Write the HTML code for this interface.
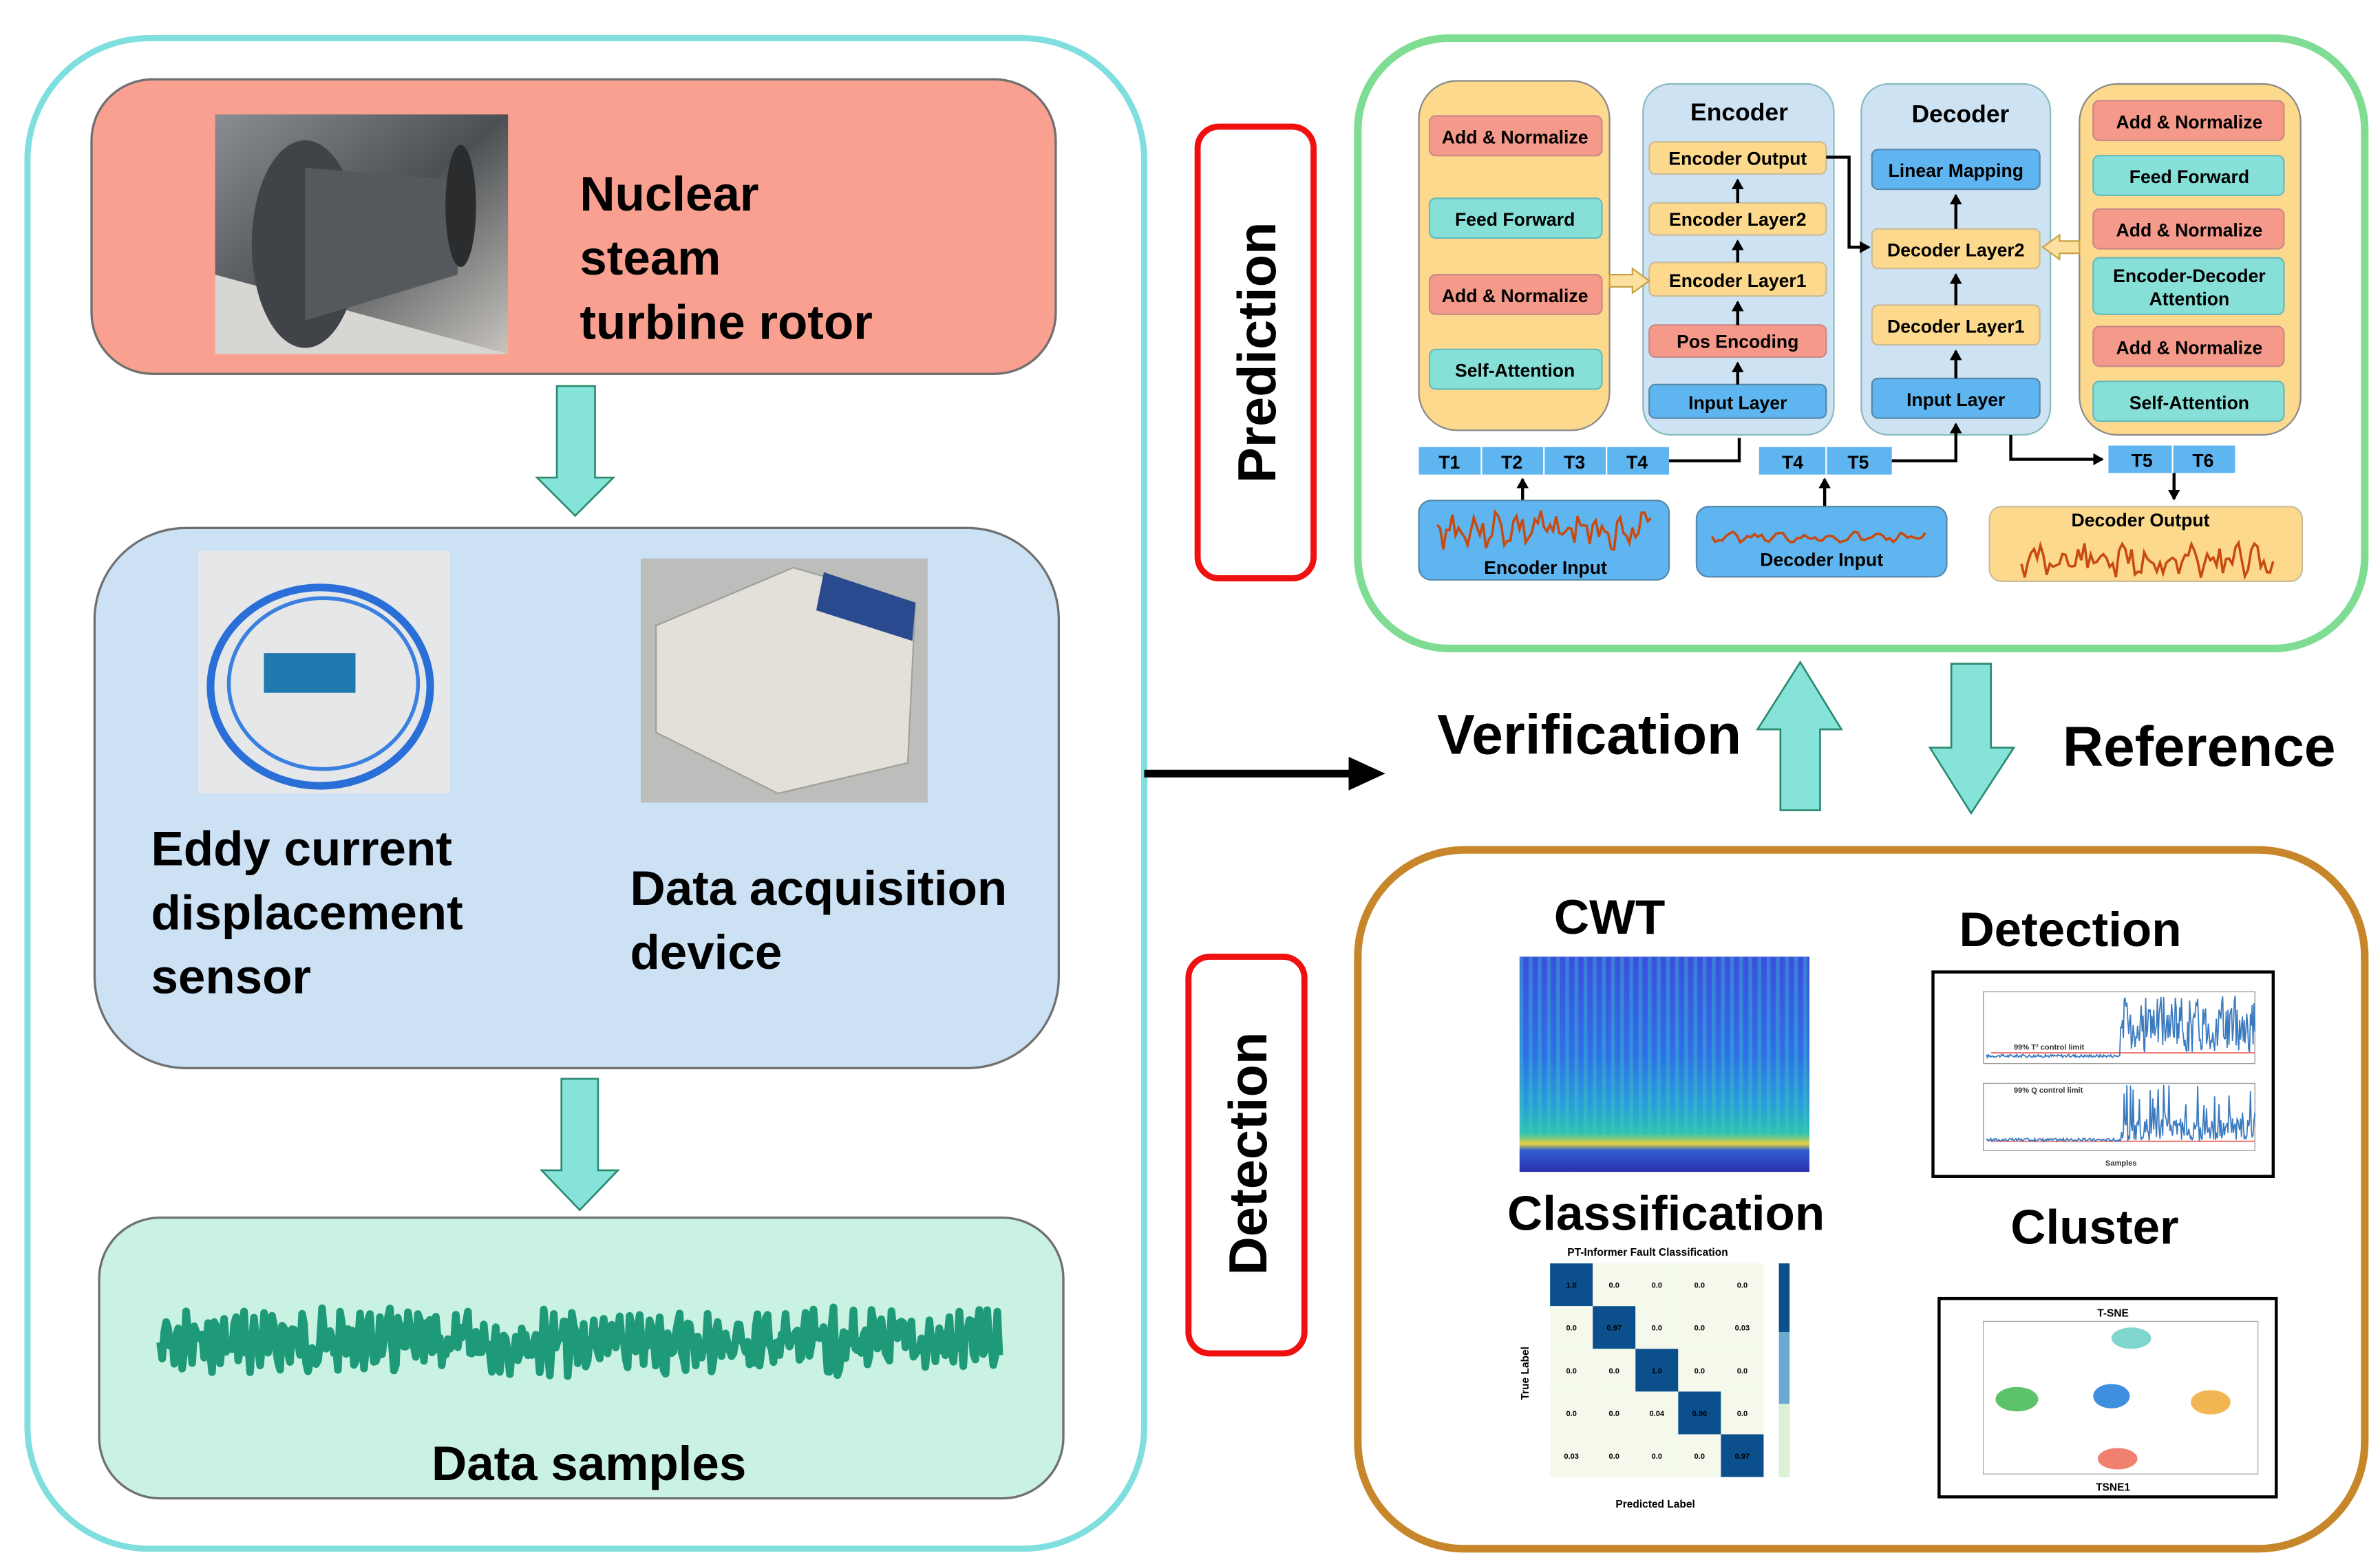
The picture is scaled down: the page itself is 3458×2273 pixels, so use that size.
<!DOCTYPE html>
<html><head><meta charset="utf-8">
<style>
html,body{margin:0;padding:0;background:#fff;}
svg{display:block;}
text{font-family:"Liberation Sans",sans-serif;font-weight:bold;}
</style></head>
<body>
<svg id="s" width="3458" height="2273" viewBox="0 0 1560 1025" preserveAspectRatio="none" xmlns="http://www.w3.org/2000/svg">
<defs>
<linearGradient id="cwt" x1="0" y1="0" x2="0" y2="1">
<stop offset="0" stop-color="#3a4fe0"/><stop offset="0.45" stop-color="#2f6fe8"/>
<stop offset="0.7" stop-color="#2aa0d8"/><stop offset="0.82" stop-color="#30c0b0"/>
<stop offset="0.87" stop-color="#e8d040"/><stop offset="0.9" stop-color="#3060d0"/>
<stop offset="1" stop-color="#2a30b0"/></linearGradient>
<pattern id="stripe" width="6" height="10" patternUnits="userSpaceOnUse">
<rect x="0" y="0" width="2.5" height="10" fill="#40d0c0" opacity="0.35"/></pattern>
<linearGradient id="turb" x1="0" y1="0" x2="1" y2="1">
<stop offset="0" stop-color="#8a8e92"/><stop offset="0.5" stop-color="#4c5054"/><stop offset="1" stop-color="#c8c4be"/></linearGradient>
<marker id="ah" markerWidth="8" markerHeight="8" refX="6" refY="4" orient="auto" markerUnits="userSpaceOnUse"><path d="M0,0 L7,4 L0,8 z" fill="#000"/></marker>
</defs>

<!-- LEFT PANEL -->
<rect x="18" y="25" width="732" height="990" rx="80" fill="#fff" stroke="#7fdede" stroke-width="4"/>
<rect x="60" y="52" width="632" height="193" rx="40" fill="#f9a090" stroke="#707070" stroke-width="1.5"/>
<rect x="141" y="75" width="192" height="157" fill="url(#turb)"/>
<path d="M141,180 L333,232 L141,232 Z" fill="#d8d6d2"/>
<ellipse cx="200" cy="160" rx="35" ry="68" fill="#404448"/>
<path d="M200,110 L300,118 L300,180 L200,210 Z" fill="#55595d"/>
<ellipse cx="302" cy="135" rx="10" ry="40" fill="#2a2c2e"/>
<text x="380" y="138" font-size="32">Nuclear</text>
<text x="380" y="180" font-size="32">steam</text>
<text x="380" y="222" font-size="32">turbine rotor</text>
<path d="M365,253 H390 V313 H402 L377,338 L352,313 H365 Z" fill="#86e3da" stroke="#2a8a70" stroke-width="1.2"/>

<rect x="62" y="346" width="632" height="354" rx="60" fill="#cce2f4" stroke="#707070" stroke-width="1.5"/>
<rect x="130" y="361" width="165" height="159" fill="#e6e7e8"/>
<ellipse cx="210" cy="450" rx="72" ry="65" fill="none" stroke="#2a6ed8" stroke-width="5"/>
<ellipse cx="212" cy="448" rx="62" ry="56" fill="none" stroke="#3a80e0" stroke-width="2.5"/>
<rect x="173" y="428" width="60" height="26" fill="#1f7ab0"/>
<rect x="420" y="366" width="188" height="160" fill="#bdbdbc"/>
<path d="M430,410 L520,372 L600,395 L595,500 L510,520 L430,480 Z" fill="#e2e0d8" stroke="#a0a09a"/>
<path d="M540,375 L600,395 L598,420 L535,400 Z" fill="#2a4a90"/>
<text x="99" y="567" font-size="32">Eddy current</text>
<text x="99" y="609" font-size="32">displacement</text>
<text x="99" y="651" font-size="32">sensor</text>
<text x="413" y="593" font-size="32">Data acquisition</text>
<text x="413" y="635" font-size="32">device</text>
<path d="M368,707 H392 V767 H405 L380,793 L355,767 H368 Z" fill="#86e3da" stroke="#2a8a70" stroke-width="1.2"/>

<rect x="65" y="798" width="632" height="184" rx="40" fill="#c9f2e3" stroke="#707070" stroke-width="1.5"/>
<polyline id="w1" fill="none" stroke="#1e9a78" stroke-width="5" stroke-linejoin="round"/>
<text x="386" y="970" font-size="32" text-anchor="middle">Data samples</text>

<line x1="750" y1="507" x2="890" y2="507" stroke="#000" stroke-width="5"/>
<path d="M884,496 L908,507 L884,518 Z" fill="#000"/>

<rect x="785" y="83" width="76" height="296" rx="14" fill="#fff" stroke="#f01010" stroke-width="4"/>
<text transform="translate(836,231) rotate(-90)" font-size="35" text-anchor="middle">Prediction</text>
<rect x="779" y="627" width="76" height="260" rx="14" fill="#fff" stroke="#f01010" stroke-width="4"/>
<text transform="translate(830,756) rotate(-90)" font-size="35" text-anchor="middle">Detection</text>

<!-- PREDICTION PANEL -->
<rect x="890" y="25" width="660" height="400" rx="60" fill="#fff" stroke="#7fdc93" stroke-width="5"/>
<g text-anchor="middle" stroke-width="1">
<rect x="930" y="53" width="125" height="229" rx="25" fill="#fcd98c" stroke="#888"/>
<rect x="937" y="76" width="113" height="26" rx="4" fill="#f59a8a" stroke="#c88"/><text x="993" y="94" font-size="12">Add &amp; Normalize</text>
<rect x="937" y="130" width="113" height="26" rx="4" fill="#86e0d8" stroke="#6bb"/><text x="993" y="148" font-size="12">Feed Forward</text>
<rect x="937" y="180" width="113" height="26" rx="4" fill="#f59a8a" stroke="#c88"/><text x="993" y="198" font-size="12">Add &amp; Normalize</text>
<rect x="937" y="229" width="113" height="26" rx="4" fill="#86e0d8" stroke="#6bb"/><text x="993" y="247" font-size="12">Self-Attention</text>

<rect x="1077" y="55" width="125" height="230" rx="18" fill="#cde3f3" stroke="#8bb"/>
<text x="1140" y="79" font-size="16">Encoder</text>
<rect x="1081" y="93" width="116" height="21" rx="4" fill="#fcd98c" stroke="#cb9"/><text x="1139" y="108" font-size="12">Encoder Output</text>
<rect x="1081" y="133" width="116" height="21" rx="4" fill="#fcd98c" stroke="#cb9"/><text x="1139" y="148" font-size="12">Encoder Layer2</text>
<rect x="1081" y="172" width="116" height="22" rx="4" fill="#fcd98c" stroke="#cb9"/><text x="1139" y="188" font-size="12">Encoder Layer1</text>
<rect x="1081" y="213" width="116" height="21" rx="4" fill="#f59a8a" stroke="#c88"/><text x="1139" y="228" font-size="12">Pos Encoding</text>
<rect x="1081" y="252" width="116" height="22" rx="4" fill="#5fb5f0" stroke="#58a"/><text x="1139" y="268" font-size="12">Input Layer</text>

<rect x="1220" y="55" width="124" height="230" rx="18" fill="#cde3f3" stroke="#8bb"/>
<text x="1285" y="80" font-size="16">Decoder</text>
<rect x="1227" y="98" width="110" height="26" rx="4" fill="#5fb5f0" stroke="#58a"/><text x="1282" y="116" font-size="12">Linear Mapping</text>
<rect x="1227" y="150" width="110" height="26" rx="4" fill="#fcd98c" stroke="#cb9"/><text x="1282" y="168" font-size="12">Decoder Layer2</text>
<rect x="1227" y="200" width="110" height="26" rx="4" fill="#fcd98c" stroke="#cb9"/><text x="1282" y="218" font-size="12">Decoder Layer1</text>
<rect x="1227" y="248" width="110" height="26" rx="4" fill="#5fb5f0" stroke="#58a"/><text x="1282" y="266" font-size="12">Input Layer</text>

<rect x="1363" y="55" width="145" height="230" rx="25" fill="#fcd98c" stroke="#888"/>
<rect x="1372" y="66" width="125" height="26" rx="4" fill="#f59a8a" stroke="#c88"/><text x="1435" y="84" font-size="12">Add &amp; Normalize</text>
<rect x="1372" y="102" width="125" height="26" rx="4" fill="#86e0d8" stroke="#6bb"/><text x="1435" y="120" font-size="12">Feed Forward</text>
<rect x="1372" y="137" width="125" height="26" rx="4" fill="#f59a8a" stroke="#c88"/><text x="1435" y="155" font-size="12">Add &amp; Normalize</text>
<rect x="1372" y="169" width="125" height="37" rx="4" fill="#86e0d8" stroke="#6bb"/><text x="1435" y="185" font-size="12">Encoder-Decoder</text><text x="1435" y="200" font-size="12">Attention</text>
<rect x="1372" y="214" width="125" height="26" rx="4" fill="#f59a8a" stroke="#c88"/><text x="1435" y="232" font-size="12">Add &amp; Normalize</text>
<rect x="1372" y="250" width="125" height="26" rx="4" fill="#86e0d8" stroke="#6bb"/><text x="1435" y="268" font-size="12">Self-Attention</text>
</g>
<g stroke="#000" stroke-width="2" fill="none">
<line x1="1139" y1="252" x2="1139" y2="238" marker-end="url(#ah)"/>
<line x1="1139" y1="213" x2="1139" y2="198" marker-end="url(#ah)"/>
<line x1="1139" y1="172" x2="1139" y2="158" marker-end="url(#ah)"/>
<line x1="1139" y1="133" x2="1139" y2="118" marker-end="url(#ah)"/>
<line x1="1282" y1="248" x2="1282" y2="230" marker-end="url(#ah)"/>
<line x1="1282" y1="200" x2="1282" y2="180" marker-end="url(#ah)"/>
<line x1="1282" y1="150" x2="1282" y2="128" marker-end="url(#ah)"/>
<polyline points="1197,103 1212,103 1212,162 1225,162" marker-end="url(#ah)"/>
<polyline points="1094,302 1140,302 1140,287"/>
<polyline points="1240,302 1282,302 1282,278" marker-end="url(#ah)"/>
<polyline points="1318,285 1318,301 1378,301" marker-end="url(#ah)"/>
<line x1="1425" y1="310" x2="1425" y2="327" marker-end="url(#ah)"/>
<line x1="998" y1="328" x2="998" y2="314" marker-end="url(#ah)"/>
<line x1="1196" y1="332" x2="1196" y2="314" marker-end="url(#ah)"/>
</g>
<path d="M1055,180 H1070 V176 L1081,184 L1070,192 V188 H1055 Z" fill="#fde0a0" stroke="#c9a040" stroke-width="1"/>
<path d="M1363,158 H1350 V154 L1339,162 L1350,170 V166 H1363 Z" fill="#fde0a0" stroke="#c9a040" stroke-width="1"/>
<g font-size="12" text-anchor="middle">
<rect x="930" y="293" width="164" height="18" fill="#5fb5f0"/>
<line x1="971" y1="293" x2="971" y2="311" stroke="#fff"/><line x1="1012" y1="293" x2="1012" y2="311" stroke="#fff"/><line x1="1053" y1="293" x2="1053" y2="311" stroke="#fff"/>
<text x="950" y="307">T1</text><text x="991" y="307">T2</text><text x="1032" y="307">T3</text><text x="1073" y="307">T4</text>
<rect x="1153" y="293" width="87" height="18" fill="#5fb5f0"/><line x1="1197" y1="293" x2="1197" y2="311" stroke="#fff"/>
<text x="1175" y="307">T4</text><text x="1218" y="307">T5</text>
<rect x="1382" y="292" width="83" height="18" fill="#5fb5f0"/><line x1="1424" y1="292" x2="1424" y2="310" stroke="#fff"/>
<text x="1404" y="306">T5</text><text x="1444" y="306">T6</text>
<rect x="930" y="328" width="164" height="52" rx="8" fill="#5fb5f0" stroke="#58a"/>
<text x="1013" y="376">Encoder Input</text>
<rect x="1112" y="332" width="164" height="46" rx="8" fill="#5fb5f0" stroke="#58a"/>
<text x="1194" y="371">Decoder Input</text>
<rect x="1304" y="332" width="205" height="49" rx="8" fill="#fcd98c" stroke="#cb9"/>
<text x="1403" y="345">Decoder Output</text>
</g>
<polyline id="w2" fill="none" stroke="#c84a10" stroke-width="1.6"/>
<polyline id="w3" fill="none" stroke="#c84a10" stroke-width="1.6"/>
<polyline id="w4" fill="none" stroke="#c84a10" stroke-width="1.6"/>

<text x="942" y="494" font-size="37">Verification</text>
<path d="M1167,531 V478 H1152 L1180,434 L1207,478 H1193 V531 Z" fill="#86e3da" stroke="#2a8a70" stroke-width="1.2"/>
<path d="M1279,435 H1305 V490 H1320 L1292,533 L1265,490 H1279 Z" fill="#86e3da" stroke="#2a8a70" stroke-width="1.2"/>
<text x="1352" y="502" font-size="37">Reference</text>

<!-- DETECTION PANEL -->
<rect x="890" y="557" width="660" height="458" rx="70" fill="#fff" stroke="#c8862a" stroke-width="5"/>
<text x="1055" y="612" font-size="32" text-anchor="middle">CWT</text>
<rect x="996" y="627" width="190" height="141" fill="url(#cwt)"/>
<rect x="996" y="627" width="190" height="120" fill="url(#stripe)"/>
<text x="1357" y="620" font-size="32" text-anchor="middle">Detection</text>
<rect x="1267" y="637" width="223" height="134" fill="#fff" stroke="#000" stroke-width="2"/>
<g stroke="#999" stroke-width="0.6" fill="none">
<rect x="1300" y="650" width="178" height="47"/><rect x="1300" y="710" width="178" height="44"/></g>
<line x1="1305" y1="690" x2="1478" y2="690" stroke="#f08080" stroke-width="1"/>
<line x1="1305" y1="748" x2="1478" y2="748" stroke="#f08080" stroke-width="1"/>
<polyline id="d1" fill="none" stroke="#3a7abf" stroke-width="0.8"/>
<polyline id="d2" fill="none" stroke="#3a7abf" stroke-width="0.8"/>
<g font-size="5" font-weight="normal" fill="#333"><text x="1320" y="688">99% T² control limit</text><text x="1320" y="716">99% Q control limit</text><text x="1380" y="764">Samples</text></g>

<text x="1092" y="806" font-size="32" text-anchor="middle">Classification</text>
<text x="1080" y="823" font-size="7" font-weight="normal" text-anchor="middle">PT-Informer Fault Classification</text>
<g id="cm"></g>
<text x="1085" y="988" font-size="7" font-weight="normal" text-anchor="middle">Predicted Label</text>
<text transform="translate(1002,900) rotate(-90)" font-size="7" font-weight="normal" text-anchor="middle">True Label</text>

<text x="1373" y="815" font-size="32" text-anchor="middle">Cluster</text>
<rect x="1271" y="851" width="221" height="130" fill="#fff" stroke="#000" stroke-width="2"/>
<rect x="1300" y="866" width="180" height="100" fill="none" stroke="#aaa" stroke-width="0.6"/>
<text x="1385" y="863" font-size="7" font-weight="normal" text-anchor="middle">T-SNE</text>
<text x="1385" y="977" font-size="7" font-weight="normal" text-anchor="middle">TSNE1</text>
<ellipse cx="1397" cy="877" rx="13" ry="7" fill="#7fd6cf"/>
<ellipse cx="1322" cy="917" rx="14" ry="8" fill="#5cc36a"/>
<ellipse cx="1384" cy="915" rx="12" ry="8" fill="#3f8fe0"/>
<ellipse cx="1449" cy="919" rx="13" ry="8" fill="#f2b552"/>
<ellipse cx="1388" cy="956" rx="13" ry="7" fill="#f08070"/>
</svg>
<script>
function rnd(seed){return function(){seed=(seed*9301+49297)%233280;return seed/233280;};}
function wave(id,x0,x1,yc,amp,n,seed,spikes,f){var r=rnd(seed),p=[];for(var i=0;i<=n;i++){var x=x0+(x1-x0)*i/n;var y=yc+amp*(Math.sin(i*(f||0.9))*0.5+(r()-0.5)*(spikes?1.6:1));p.push(x.toFixed(1)+","+y.toFixed(1));}document.getElementById(id).setAttribute("points",p.join(" "));}
wave("w1",105,655,880,18,420,7,1,1.3);
wave("w2",942,1082,347,11,70,3,1);
wave("w3",1122,1262,352,4,60,5,0);
wave("w4",1325,1490,367,11,80,11,1);
(function(){var r=rnd(17),p=[],q=[];for(var i=0;i<=300;i++){var x=1302+176*i/300;var y1=i<150?693-r()*2:690-r()*38;var y2=i<150?748-r()*2:748-r()*(r()<0.3?38:15);p.push(x.toFixed(1)+","+y1.toFixed(1));q.push(x.toFixed(1)+","+y2.toFixed(1));}
document.getElementById("d1").setAttribute("points",p.join(" "));document.getElementById("d2").setAttribute("points",q.join(" "));})();
(function(){var g=document.getElementById("cm"),ns="http://www.w3.org/2000/svg",v=[["1.0","0.0","0.0","0.0","0.0"],["0.0","0.97","0.0","0.0","0.03"],["0.0","0.0","1.0","0.0","0.0"],["0.0","0.0","0.04","0.96","0.0"],["0.03","0.0","0.0","0.0","0.97"]];
for(var i=0;i<5;i++)for(var j=0;j<5;j++){var x=1016+j*28,y=828+i*28;var r=document.createElementNS(ns,"rect");r.setAttribute("x",x);r.setAttribute("y",y);r.setAttribute("width",28);r.setAttribute("height",28);r.setAttribute("fill",i==j?"#0b4f8c":"#f4f9ec");g.appendChild(r);
var t=document.createElementNS(ns,"text");t.setAttribute("x",x+14);t.setAttribute("y",y+16);t.setAttribute("font-size","5");t.setAttribute("font-weight","normal");t.setAttribute("text-anchor","middle");t.textContent=v[i][j];g.appendChild(t);}
var cb=document.createElementNS(ns,"rect");cb.setAttribute("x",1166);cb.setAttribute("y",828);cb.setAttribute("width",7);cb.setAttribute("height",140);cb.setAttribute("fill","#6aaad0");g.appendChild(cb);
var cb2=document.createElementNS(ns,"rect");cb2.setAttribute("x",1166);cb2.setAttribute("y",828);cb2.setAttribute("width",7);cb2.setAttribute("height",45);cb2.setAttribute("fill","#0b4f8c");g.appendChild(cb2);
var cb3=document.createElementNS(ns,"rect");cb3.setAttribute("x",1166);cb3.setAttribute("y",920);cb3.setAttribute("width",7);cb3.setAttribute("height",48);cb3.setAttribute("fill","#dcf0d4");g.appendChild(cb3);})();
</script>
</body></html>
